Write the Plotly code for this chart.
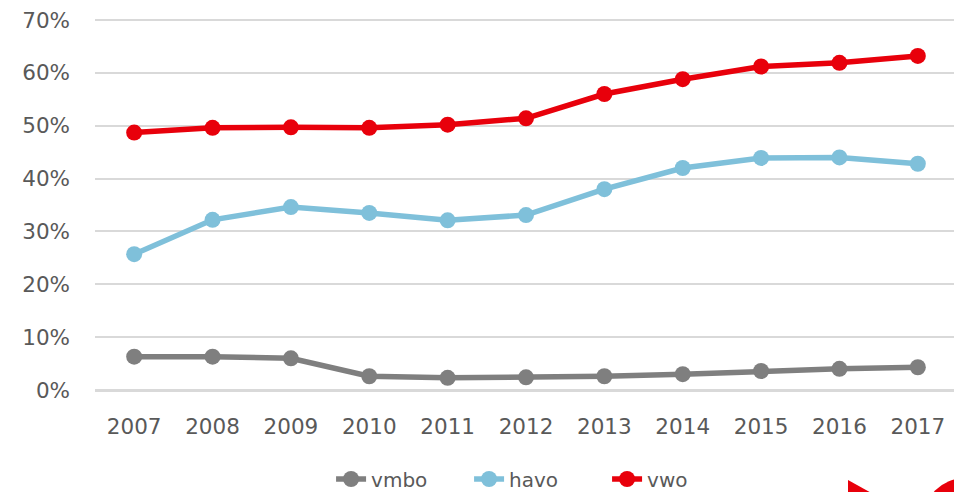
import plotly.graph_objects as go

years = ["2007", "2008", "2009", "2010", "2011", "2012", "2013", "2014", "2015", "2016", "2017"]
vmbo = [6.3, 6.3, 6.0, 2.6, 2.3, 2.4, 2.6, 3.0, 3.6, 4.0, 4.3]
havo = [25.7, 32.2, 34.6, 33.5, 32.1, 33.1, 38.0, 42.0, 43.9, 44.0, 42.8]
vwo = [48.7, 49.6, 49.7, 49.6, 50.2, 51.4, 56.0, 58.8, 61.2, 61.9, 63.2]

series = [("vmbo", vmbo, "#7f7f7f"), ("havo", havo, "#7fc0da"), ("vwo", vwo, "#e8000b")]

FONT = "DejaVu Sans"
FS = 21.5
fig = go.Figure()
for name, vals, col in series:
    fig.add_trace(go.Scatter(
        x=years, y=vals, name=name, mode="lines+markers",
        line=dict(color=col, width=5.5), marker=dict(color=col, size=16),
    ))

# page body adds an 8px offset to the figure
OFF = 8
W, H = 962 - OFF, 492
YMAX = 70.378  # a hair above 70 so the 70% gridline is drawn
L, R, T = 95 - OFF, 5, 10
B = H - (390 - OFF)
pw, ph = W - L - R, H - T - B

def px(x):
    return (x - OFF - L) / pw

def py(y):
    return (H - B - (y - OFF)) / ph

fig.update_layout(
    width=W, height=H,
    margin=dict(l=L, r=R, t=T, b=B, autoexpand=False),
    plot_bgcolor="white", paper_bgcolor="white",
    font=dict(family=FONT, size=FS, color="#595959"),
    showlegend=True,
    legend=dict(orientation="h", x=0.514, xanchor="center", y=py(479), yanchor="middle",
                font=dict(size=20, color="#595959"), itemwidth=30, tracegroupgap=0,
                entrywidth=93),
    xaxis=dict(showgrid=False, showline=False, ticks="", ticklabelstandoff=21,
               range=[-0.5, 10.5], automargin=False,
               tickfont=dict(size=FS, color="#595959")),
    yaxis=dict(range=[0, YMAX], tick0=0, dtick=10, ticksuffix="%", showgrid=True,
               gridcolor="#d9d9d9", gridwidth=1.5, zeroline=True, zerolinecolor="#d9d9d9",
               zerolinewidth=3, showline=False, ticks="", ticklabelstandoff=24,
               ticklabeloverflow="allow", automargin=False,
               tickfont=dict(size=FS, color="#595959")),
    shapes=[
        dict(type="path", xref="paper", yref="paper",
             path=f"M {px(848)} {py(480)} L {px(848)} {py(500)} L {px(884)} {py(500)} Z",
             fillcolor="#e8000b", line=dict(width=0)),
        dict(type="circle", xref="paper", yref="paper",
             x0=px(923), x1=px(1007), y0=py(478), y1=py(562),
             fillcolor="#e8000b", line=dict(width=0)),
    ],
)

fig.write_html("out.html")
